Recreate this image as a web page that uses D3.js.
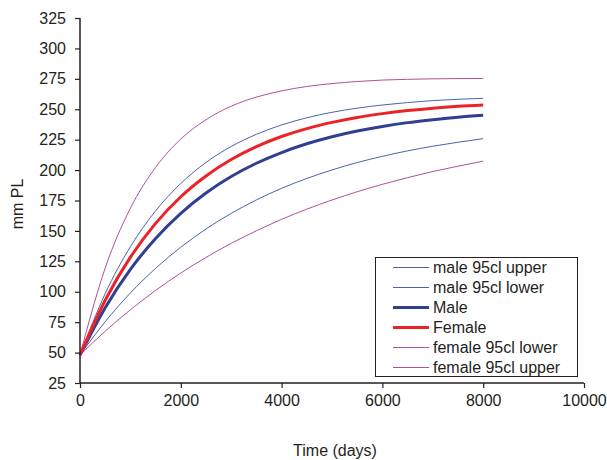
<!DOCTYPE html>
<html>
<head>
<meta charset="utf-8">
<script src="https://cdn.jsdelivr.net/npm/d3@7"></script>
<style>
  body { margin: 0; background: #fff; }
  text { font-family: "Liberation Sans", Arial, sans-serif; fill: #231f20; }
</style>
</head>
<body>
<div class="canvas"></div>
<script>
// ---------------- data (every 500 days) ----------------
const days = [0, 500, 1000, 1500, 2000, 2500, 3000, 3500, 4000, 4500, 5000, 5500, 6000, 6500, 7000, 7500, 8000];

const maleUpper   = [48, 98.5, 137, 166.5, 189, 206.3, 219.4, 229.4, 237.1, 243, 247.5, 250.9, 253.5, 255.5, 257.1, 258.2, 259];
const maleLower   = [48, 75.4, 99, 119.2, 136.6, 151.6, 164.4, 175.5, 185, 193.1, 200.1, 206.2, 211.3, 215.8, 219.6, 222.9, 225.8];
const male        = [48, 86.9, 118.4, 143.8, 164.5, 181.2, 194.7, 205.6, 214.4, 221.6, 227.4, 232.1, 235.9, 239, 241.4, 243.5, 245.1];
const female      = [48, 93, 128.4, 156.2, 178.1, 195.2, 208.7, 219.3, 227.6, 234.1, 239.2, 243.3, 246.4, 248.9, 250.9, 252.4, 253.5];
const femaleLower = [48, 67.6, 85.2, 101.1, 115.4, 128.2, 139.8, 150.1, 159.5, 167.9, 175.4, 182.2, 188.3, 193.8, 198.8, 203.2, 207.3];
const femaleUpper = [48, 119.5, 168.7, 202.2, 225.5, 241.4, 252.5, 260, 265.1, 268.7, 271.1, 272.8, 274, 274.6, 275, 275.2, 275.3];

const seriesNames = ['male 95cl upper', 'male 95cl lower', 'Male', 'Female', 'female 95cl lower', 'female 95cl upper'];
const seriesValues = [maleUpper, maleLower, male, female, femaleLower, femaleUpper];

const xTicks = [0, 2000, 4000, 6000, 8000, 10000];
const yTicks = [25, 50, 75, 100, 125, 150, 175, 200, 225, 250, 275, 300, 325];

// styles per series (same order as names)
const styles = [
  { color: '#4a63ad', width: 1 },
  { color: '#4a63ad', width: 1 },
  { color: '#2e3f94', width: 3 },
  { color: '#ed2226', width: 3 },
  { color: '#b14f9d', width: 1 },
  { color: '#b14f9d', width: 1 }
];

//------------------------ svg container
const W = 607, H = 460;
const svg = d3.select('.canvas').append('svg')
  .attr('width', W).attr('height', H);

const x = d3.scaleLinear().domain([0, 10000]).range([80, 584]);
const y = d3.scaleLinear().domain([25, 325]).range([383, 18]);

// ------------------------ lines (thin first, thick on top)
const line = d3.line()
  .x((d, i) => x(days[i]))
  .y(d => y(d))
  .curve(d3.curveMonotoneX);

const drawOrder = [0, 1, 4, 5, 2, 3];
svg.append('g').selectAll('path')
  .data(drawOrder)
  .join('path')
  .attr('fill', 'none')
  .attr('stroke', k => styles[k].color)
  .attr('stroke-width', k => styles[k].width)
  .attr('stroke-linejoin', 'round')
  .attr('d', k => line(seriesValues[k]));

// ------------------------ axes
const xAxis = svg.append('g')
  .attr('transform', `translate(0, ${y(25)})`)
  .call(d3.axisBottom(x).tickValues(xTicks).tickSize(5).tickPadding(7).tickFormat(d3.format('d')));

const yAxis = svg.append('g')
  .attr('transform', `translate(${x(0)}, 0)`)
  .call(d3.axisLeft(y).tickValues(yTicks).tickSize(5).tickPadding(9));

[xAxis, yAxis].forEach(a => {
  a.select('.domain').attr('stroke', '#231f20').attr('stroke-width', 1.5);
  a.selectAll('.tick line').attr('stroke', '#231f20').attr('stroke-width', 1.2);
  a.selectAll('.tick text').attr('font-size', '16px').attr('font-family', null).style('fill', '#231f20');
});
// flat domain ends
xAxis.select('.domain').attr('d', `M${x(0)},0H${x(10000)}`);
yAxis.select('.domain').attr('d', `M0,${y(25)}V${y(325)}`);

// ------------------------ axis titles
svg.append('text')
  .attr('x', 335).attr('y', 456)
  .attr('text-anchor', 'middle')
  .attr('font-size', '16px')
  .text('Time (days)');

svg.append('text')
  .attr('transform', 'translate(23, 204) rotate(-90)')
  .attr('text-anchor', 'middle')
  .attr('font-size', '16px')
  .text('mm PL');

// ------------------------ legend
const legend = svg.append('g');
legend.append('rect')
  .attr('x', 375.5).attr('y', 257.5)
  .attr('width', 202).attr('height', 119)
  .attr('fill', '#fff')
  .attr('stroke', '#231f20').attr('stroke-width', 1);

const items = legend.selectAll('g.item')
  .data(seriesNames)
  .join('g')
  .attr('class', 'item')
  .attr('transform', (d, i) => `translate(0, ${267.5 + i * 20})`);

items.append('line')
  .attr('x1', 393).attr('x2', 429)
  .attr('stroke', (d, i) => styles[i].color)
  .attr('stroke-width', (d, i) => styles[i].width);

items.append('text')
  .attr('x', 433).attr('y', 0)
  .attr('dy', '0.36em')
  .attr('font-size', '16px')
  .text(d => d);
</script>
</body>
</html>
